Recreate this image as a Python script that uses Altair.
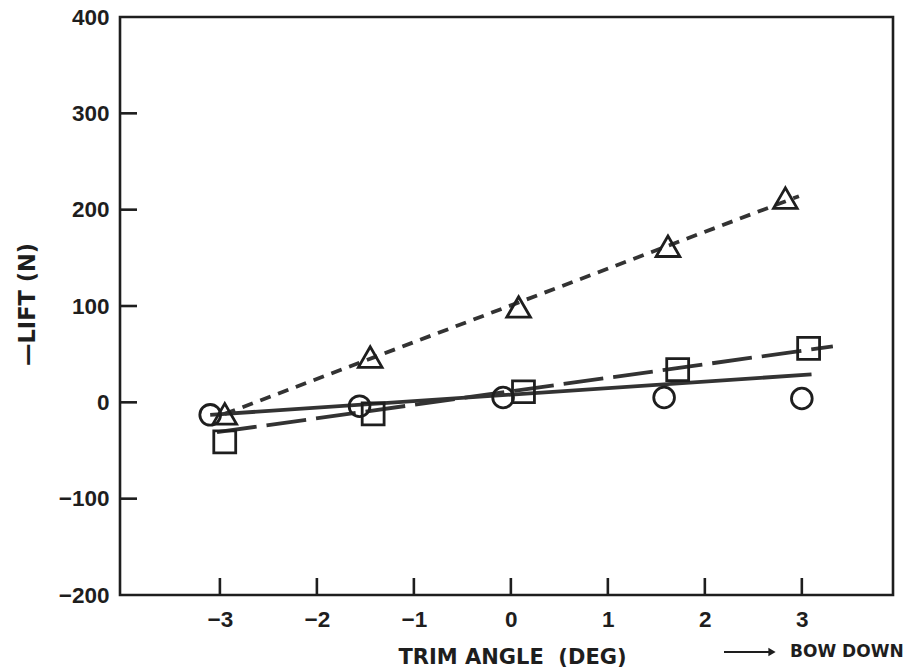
import altair as alt
import pandas as pd

# ---- data ----
circle_x = [-3.10, -1.56, -0.08, 1.58, 3.00]
circle_y = [-13, -4, 5, 5, 4]
square_x = [-2.95, -1.42, 0.13, 1.72, 3.07]
square_y = [-41, -12, 11, 34, 56]
triangle_x = [-2.95, -1.45, 0.08, 1.62, 2.83]
triangle_y = [-12, 47, 99, 162, 212]

# fitted straight lines (end points)
solid_fit_x = [-3.10, 3.10]
solid_fit_y = [-13, 29]
long_dash_fit_x = [-3.03, 3.32]
long_dash_fit_y = [-31, 58]
short_dash_fit_x = [-2.95, 2.97]
short_dash_fit_y = [-12, 214]

x_ticks = [-3, -2, -1, 0, 1, 2, 3]
y_ticks = [-100, 0, 100, 200, 300]
y_labels = [-200, -100, 0, 100, 200, 300, 400]

FONT = "Liberation Sans"
TFONT = "DejaVu Sans"
INK = "#1e1e1e"
LINE = "#333333"

W, H = 773, 578
xs = alt.Scale(domain=[-4.03, 3.94], nice=False, zero=False)
ys = alt.Scale(domain=[-200, 400], nice=False, zero=False)

x_axis = alt.Axis(values=x_ticks, ticks=False, domain=False, grid=False,
                  labelFont=FONT, labelFontSize=22.5, labelFontWeight="bold",
                  labelColor=INK, labelPadding=13, labelFlush=False,
                  title="TRIM ANGLE\u00a0\u00a0(DEG)", titleFont=TFONT,
                  titleFontSize=21, titleFontWeight="bold", titleColor=INK,
                  titleX=392, titleY=68, titleBaseline="alphabetic")
y_axis = alt.Axis(values=y_labels, ticks=False, domain=False, grid=False,
                  labelFont=FONT, labelFontSize=22.5, labelFontWeight="bold",
                  labelColor=INK, labelPadding=11, labelFlush=False,
                  title="\u2014LIFT (N)", titleFont=TFONT, titleFontSize=22.5,
                  titleFontWeight="bold", titleColor=INK,
                  titleX=-93, titleY=287, titleBaseline="middle")


def X(field):
    return alt.X(field, scale=xs, axis=x_axis)


def Y(field):
    return alt.Y(field, scale=ys, axis=y_axis)


fits = [
    (solid_fit_x, solid_fit_y, None),
    (long_dash_fit_x, long_dash_fit_y, [40, 10]),
    (short_dash_fit_x, short_dash_fit_y, [11, 8]),
]

layers = []
for fx, fy, dash in fits:
    df = pd.DataFrame({"x": fx, "y": fy})
    kw = dict(strokeWidth=3.8, color=LINE)
    if dash is not None:
        kw["strokeDash"] = dash
    layers.append(alt.Chart(df).mark_line(**kw).encode(x=X("x:Q"), y=Y("y:Q")))

for shp, size, px, py in [("circle", 430, circle_x, circle_y),
                          ("square", 480, square_x, square_y),
                          ("triangle-up", 560, triangle_x, triangle_y)]:
    df = pd.DataFrame({"x": px, "y": py})
    layers.append(
        alt.Chart(df).mark_point(shape=shp, size=size, filled=False,
                                 strokeWidth=2.8, color=INK, opacity=1).encode(
            x=X("x:Q"), y=Y("y:Q"))
    )

# inward tick marks
xt = pd.DataFrame({"x": x_ticks})
yt = pd.DataFrame({"y": y_ticks})
layers.append(
    alt.Chart(xt).mark_rule(strokeWidth=2.6, color=INK).encode(
        x=X("x:Q"), y=alt.value(H), y2=alt.value(H - 17))
)
layers.append(
    alt.Chart(yt).mark_rule(strokeWidth=2.6, color=INK).encode(
        y=Y("y:Q"), x=alt.value(0), x2=alt.value(17))
)

# "BOW DOWN" annotation with arrow
ann = pd.DataFrame({"t": ["BOW DOWN"]})
layers.append(
    alt.Chart(ann).mark_rule(strokeWidth=2, color=INK).encode(
        x=alt.value(604), x2=alt.value(650), y=alt.value(635))
)
layers.append(
    alt.Chart(ann).mark_point(shape="triangle-right", filled=True, size=70,
                              color=INK, opacity=1).encode(
        x=alt.value(652), y=alt.value(635))
)
layers.append(
    alt.Chart(ann).mark_text(font=TFONT, fontSize=17, fontWeight="bold",
                             color=INK, align="left", baseline="middle").encode(
        x=alt.value(670), y=alt.value(635), text="t:N")
)

chart = alt.layer(*layers).properties(
    width=W, height=H,
    padding={"left": 120, "top": 17, "right": 27, "bottom": 75},
    autosize=alt.AutoSizeParams(type="none"),
    background="white",
).configure_view(stroke=INK, strokeWidth=2.6)

chart.save("out.html", embed_options={"renderer": "svg", "actions": False})
